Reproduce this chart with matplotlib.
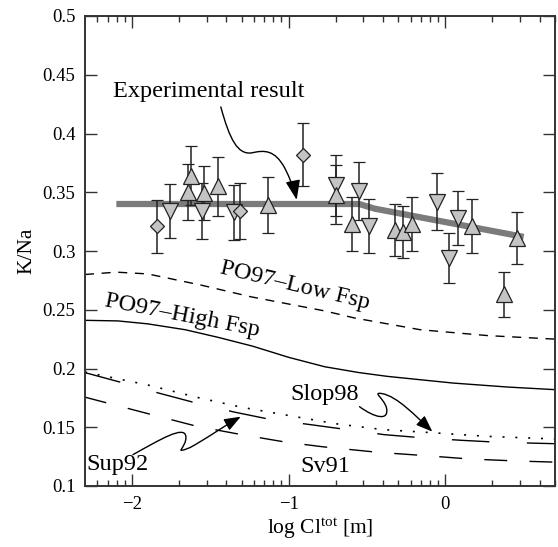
import numpy as np
import matplotlib
matplotlib.use("Agg")
import matplotlib.pyplot as plt
from matplotlib.path import Path
from matplotlib.patches import FancyArrowPatch

plt.rcParams['font.family'] = ['Liberation Serif', 'DejaVu Serif']
plt.rcParams['mathtext.fontset'] = 'custom'
plt.rcParams['mathtext.rm'] = 'Liberation Serif'
plt.rcParams['mathtext.it'] = 'Liberation Serif:italic'

# ---------------- data ----------------
# Experimental result (thick gray line)
exp_x = [-2.1, -0.55, -0.45, 0.5]
exp_y = [0.340, 0.340, 0.336, 0.312]

# diamonds
dia_x = [-1.84, -1.31, -0.908]
dia_y = [0.321, 0.334, 0.382]
dia_e = [0.0225, 0.0235, 0.027]

# down triangles
dn_x = [-1.76, -1.556, -1.35, -0.70, -0.552, -0.49, -0.051, 0.025, 0.083]
dn_y = [0.334, 0.334, 0.333, 0.356, 0.351, 0.321, 0.342, 0.294, 0.328]
dn_e = [0.023, 0.0235, 0.0235, 0.026, 0.025, 0.023, 0.024, 0.021, 0.023]

# up triangles
up_x = [-1.64, -1.625, -1.54, -1.45, -1.13, -0.70, -0.597, -0.324, -0.273, -0.21, 0.171, 0.457, 0.375]
up_y = [0.350, 0.364, 0.349, 0.355, 0.339, 0.348, 0.323, 0.318, 0.316, 0.323, 0.321, 0.311, 0.263]
up_e = [0.024, 0.025, 0.023, 0.025, 0.024, 0.025, 0.023, 0.022, 0.022, 0.023, 0.023, 0.022, 0.019]

# model curves
low_x = [-2.3, -2.1, -1.9, -1.56, -1.24, -0.77, -0.58, -0.16, 0.27, 0.7]
low_y = [0.280, 0.282, 0.2805, 0.271, 0.261, 0.249, 0.243, 0.233, 0.228, 0.225]

high_x = [-2.3, -2.09, -1.9, -1.66, -1.45, -1.23, -1.0, -0.77, -0.55, -0.37, 0.05, 0.4, 0.7]
high_y = [0.241, 0.2405, 0.238, 0.233, 0.2265, 0.219, 0.2095, 0.2015, 0.1965, 0.1933, 0.1876, 0.1842, 0.182]

sup_x = [-2.306, -2.07, -1.83, -1.59, -1.35, -1.13, -0.86, -0.39, -0.146, 0.10, 0.344, 0.7]
sup_y = [0.1967, 0.1882, 0.1791, 0.1706, 0.163, 0.157, 0.1522, 0.1437, 0.141, 0.1389, 0.1372, 0.136]

slop_x = [-2.3, -1.9, -1.57, -1.3, -1.0, -0.7, -0.4, -0.1, 0.26, 0.7]
slop_y = [0.197, 0.186, 0.175, 0.167, 0.160, 0.153, 0.148, 0.1455, 0.1423, 0.140]

sv_x = [-2.306, -1.873, -1.586, -1.30, -1.013, -0.777, -0.433, -0.134, 0.153, 0.452, 0.7]
sv_y = [0.1758, 0.1607, 0.1508, 0.1437, 0.1372, 0.1333, 0.1287, 0.1259, 0.123, 0.1213, 0.1203]

yticks = [0.1, 0.15, 0.2, 0.25, 0.3, 0.35, 0.4, 0.45, 0.5]
ytick_labels = ['0.1', '0.15', '0.2', '0.25', '0.3', '0.35', '0.4', '0.45', '0.5']
xticks = [-2, -1, 0]
xtick_labels = ['\u22122', '\u22121', '0']

# ---------------- figure ----------------
W, H = 558, 547
fig = plt.figure(figsize=(W / 100, H / 100), dpi=100)
ax = fig.add_axes([85 / W, (H - 486) / H, (555 - 85) / W, (486 - 16) / H])

ax.plot(low_x, low_y, color='black', lw=1.0, dashes=(6.5, 5.5))
ax.plot(high_x, high_y, color='black', lw=1.0)
ax.plot(sup_x, sup_y, color='black', lw=1.0, dashes=(27, 27))
ax.plot(slop_x, slop_y, color='black', lw=1.2, dashes=(1.2, 6.5))
ax.plot(sv_x, sv_y, color='black', lw=1.0, dashes=(16.5, 16))

ax.plot(exp_x, exp_y, color='#7b7b7b', lw=4.5, solid_capstyle='butt',
        solid_joinstyle='round', zorder=2)

mfc = '#c4c4c4'
common = dict(ls='none', ecolor='#222222', elinewidth=1.1, capsize=4.5, capthick=1.1,
              mfc=mfc, mec='#222222', mew=0.9, zorder=3)
ax.errorbar(dn_x, dn_y, yerr=dn_e, fmt='v', ms=11, **common)
ax.errorbar(up_x, up_y, yerr=up_e, fmt='^', ms=11, **common)
ax.errorbar(dia_x, dia_y, yerr=dia_e, fmt='D', ms=7.5, **common)

ax.set_xlim(-2.3, 0.7)
ax.set_ylim(0.1, 0.5)
ax.set_xticks(xticks)
ax.set_xticklabels(xtick_labels)
minor = [d + np.log10(k) for d in (-3, -2, -1, 0) for k in range(2, 10)]
minor = [m for m in minor if -2.3 < m < 0.7]
ax.set_xticks(minor, minor=True)
ax.set_yticks(yticks)
ax.set_yticklabels(ytick_labels)
ax.tick_params(which='both', direction='in', top=True, right=True, labelsize=13.5, color='#333333')
ax.tick_params(which='major', length=8.5, width=1.0, pad=7)
ax.tick_params(which='minor', length=4.3, width=1.0)
for s in ax.spines.values():
    s.set_linewidth(1.4)
    s.set_color('#333333')

ax.set_xlabel(r'log Cl$^{\rm tot}$ [m]', fontsize=15.5, labelpad=3)
ax.set_ylabel('K/Na', fontsize=15.5, labelpad=4)

# ---------------- annotations ----------------
def px2d(x, y):
    return ((x - 446) / 157.0, 0.5 - (y - 16) / 1176.0)

ax.text(*px2d(113, 97), 'Experimental result', fontsize=17.5, ha='left', va='baseline')
ax.text(*px2d(295, 286), 'PO97\u2013Low Fsp', fontsize=17.5, ha='center', va='center',
        rotation=-13.5, rotation_mode='anchor')
ax.text(*px2d(182, 316), 'PO97\u2013High Fsp', fontsize=17.5, ha='center', va='center',
        rotation=-11, rotation_mode='anchor')
ax.text(*px2d(291, 400), 'Slop98', fontsize=17.5, ha='left', va='baseline')
ax.text(*px2d(86, 470), 'Sup92', fontsize=17.5, ha='left', va='baseline')
ax.text(*px2d(301, 472), 'Sv91', fontsize=17.5, ha='left', va='baseline')

def curvy_arrow(pts, hl=10, hw=3.8):
    verts = [px2d(*p) for p in pts]
    codes = [Path.MOVETO] + [Path.CURVE4] * (len(verts) - 1)
    arr = FancyArrowPatch(path=Path(verts, codes),
                          arrowstyle='-|>,head_length=%g,head_width=%g' % (hl, hw),
                          color='black', lw=1.0, mutation_scale=1, zorder=5)
    ax.add_patch(arr)

curvy_arrow([(221, 107), (230, 140), (238, 155), (252, 153),
             (265, 150), (275, 150), (285, 168),
             (290, 178), (295, 190), (297, 200)], hl=12, hw=4.5)
curvy_arrow([(360, 407), (375, 418), (390, 422), (387, 408),
             (384, 398), (372, 392), (383, 394),
             (398, 397), (416, 416), (433, 432)])
curvy_arrow([(133, 455), (160, 440), (185, 425), (186, 437),
             (187, 448), (172, 455), (190, 448),
             (205, 440), (225, 426), (241, 417)])

fig.savefig('out.png', dpi=100)
